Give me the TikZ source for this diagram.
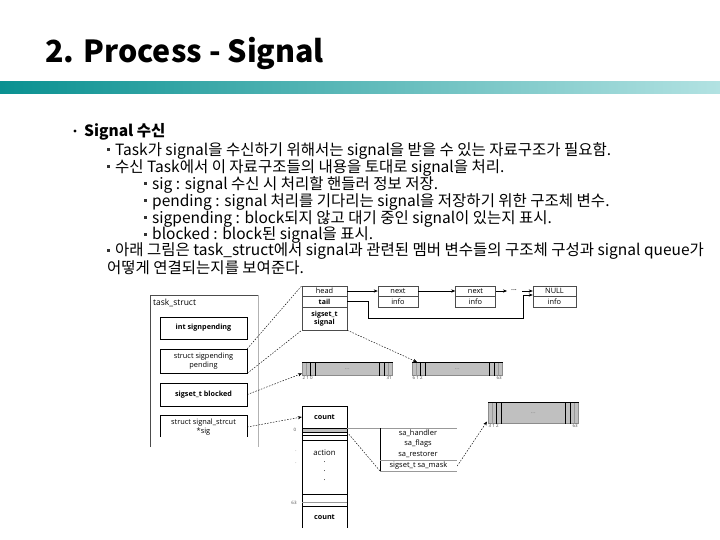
\documentclass[tikz,border=0pt]{standalone}
\usepackage{fontspec}
\setmainfont{Noto Sans CJK KR}
\newfontfamily\dfont{Open Sans}
\usetikzlibrary{arrows.meta}
\definecolor{tealA}{RGB}{10,145,145}
\definecolor{tealB}{RGB}{178,226,226}
\definecolor{bmgrey}{RGB}{192,192,192}
\newcommand{\bmlines}[1]{%
  \draw[black!40,line width=0.5pt] ([xshift=4.3pt]#1.north west) -- ([xshift=4.3pt]#1.south west);
  \draw[black,line width=0.6pt] ([xshift=8.7pt]#1.north west) -- ([xshift=8.7pt]#1.south west);
  \draw[black,line width=0.6pt] ([xshift=13pt]#1.north west) -- ([xshift=13pt]#1.south west);
  \draw[black,line width=0.6pt] ([xshift=-13pt]#1.north east) -- ([xshift=-13pt]#1.south east);
  \draw[black,line width=0.6pt] ([xshift=-8.7pt]#1.north east) -- ([xshift=-8.7pt]#1.south east);
  \draw[black!40,line width=0.5pt] ([xshift=-4.3pt]#1.north east) -- ([xshift=-4.3pt]#1.south east);
  \draw[black,line width=0.7pt] (#1.north west) -- (#1.north east);}
\begin{document}
\begin{tikzpicture}[x=1pt,y=-1pt,
  body/.style={anchor=base west, inner sep=0pt, font=\fontsize{15.5}{17}\selectfont},
  sq/.style={fill=black!80, minimum size=3pt, inner sep=0pt},
  dtxt/.style={font=\dfont\fontsize{7.4}{8.4}\selectfont, inner sep=0pt, align=center},
  tbox/.style={dtxt, draw, line width=0.6pt, minimum width=87pt},
  cell/.style={dtxt, draw=black!70, line width=0.5pt},
  bm/.style={draw=black!45, line width=0.5pt, fill=bmgrey, inner sep=0pt, anchor=north west,
     font=\dfont\fontsize{6}{6}\selectfont, text=black!50},
  lbl/.style={font=\dfont\fontsize{4.5}{5}\selectfont, inner sep=0pt, text=black!70},
  dl/.style={line width=0.45pt, dash pattern=on 1.5pt off 1.4pt},
  arr/.style={-{Stealth[length=4pt,width=3.2pt]}},
  sl/.style={line width=0.7pt}
]
\useasboundingbox (0,0) rectangle (720,540);
% title
\node[anchor=base west, inner sep=0pt, font=\bfseries\fontsize{30.4}{34}\selectfont] (title) at (45,63) {2. Process - Signal};
\shade[left color=tealA, right color=tealB] (0,82) rectangle (720,94);
% bullets
\fill (75,131) circle (1.6);
\node[anchor=base west, inner sep=0pt, font=\bfseries\fontsize{15.5}{18}\selectfont] (h1) at (84,137) {Signal 수신};
\node[sq] (b1) at (108,150) {};
\node[body] (t1) at (115,155.5) {Task가 signal을 수신하기 위해서는 signal을 받을 수 있는 자료구조가 필요함.};
\node[sq] (b2) at (108,167) {};
\node[body] (t2) at (115,172.5) {수신 Task에서 이 자료구조들의 내용을 토대로 signal을 처리.};
\node[sq] (b3) at (145,184) {};
\node[body] (t3) at (152,189.5) {sig : signal 수신 시 처리할 핸들러 정보 저장.};
\node[sq] (b4) at (145,201) {};
\node[body] (t4) at (152,206.5) {pending : signal 처리를 기다리는 signal을 저장하기 위한 구조체 변수.};
\node[sq] (b5) at (145,218) {};
\node[body] (t5) at (152,223.5) {sigpending : block되지 않고 대기 중인 signal이 있는지 표시.};
\node[sq] (b6) at (145,234) {};
\node[body] (t6) at (152,239.5) {blocked : block된 signal을 표시.};
\node[sq] (b7) at (108,250) {};
\node[body] (t7) at (115,255.5) {아래 그림은 task\_struct에서 signal과 관련된 멤버 변수들의 구조체 구성과 signal queue가};
\node[body] (t8) at (107,273) {어떻게 연결되는지를 보여준다.};
% task_struct
\draw[black!70,line width=0.6pt] (150,447) -- (150,295) -- (258,295);
\draw[black!30,line width=0.6pt] (258,295) -- (258,447);
\node[dtxt, anchor=west, font=\dfont\fontsize{8.5}{9}\selectfont] (tsl) at (153,303) {task\_struct};
\node[tbox, minimum height=22pt, font=\dfont\bfseries\fontsize{7.2}{8.4}\selectfont] (isp) at (203.5,328) {int signpending};
\node[tbox, minimum height=24pt] (pend) at (203.5,361) {struct sigpending\\pending};
\node[tbox, minimum height=23pt, font=\dfont\bfseries\fontsize{7.2}{8.4}\selectfont] (blk) at (203.5,394.5) {sigset\_t blocked};
\draw[line width=0.6pt] (160,437) -- (160,415) -- (247,415) -- (247,437);
\node[dtxt, minimum width=87pt] (sigb) at (203.5,427) {struct signal\_strcut\\*sig};
% sigpending struct
\node[cell, minimum width=45pt, minimum height=10pt] (head) at (324.5,291) {head};
\node[cell, minimum width=45pt, minimum height=11pt, font=\dfont\bfseries\fontsize{7}{8}\selectfont] (tail) at (324.5,301.5) {tail};
\node[cell, minimum width=45pt, minimum height=23pt, font=\dfont\bfseries\fontsize{7}{8.4}\selectfont] (sset) at (324.5,318.5) {sigset\_t\\signal};
\node[cell, minimum width=40pt, minimum height=10pt] (n1a) at (398,291) {next};
\node[cell, minimum width=40pt, minimum height=11pt] (n1b) at (398,301.5) {info};
\node[cell, minimum width=40pt, minimum height=10pt] (n2a) at (475.5,291) {next};
\node[cell, minimum width=40pt, minimum height=11pt] (n2b) at (475.5,301.5) {info};
\node[cell, minimum width=43pt, minimum height=10pt] (nla) at (554.5,291) {NULL};
\node[cell, minimum width=43pt, minimum height=11pt] (nlb) at (554.5,301.5) {info};
\node[dtxt] (dots) at (514,290) {...};
\coordinate (d1) at (507,291);
\coordinate (d2) at (522,291);
\draw[arr, line width=0.5pt] (head.east) -- (n1a.west);
\draw[arr, line width=0.5pt] (n1a.east) -- (n2a.west);
\draw[arr, line width=0.5pt] (n2a.east) -- (d1);
\draw[arr, line width=0.5pt] (d2) -- (nla.west);
\draw[arr, line width=0.5pt] (tail.east) -- (368,301.5) -- (368,318) -- (523,318) -- (523,295) -- ([yshift=-4pt]nla.west);
% bitmaps
\node[bm, minimum width=90pt, minimum height=13pt] (bm1) at (302,362) {...};
\bmlines{bm1}
\node[bm, minimum width=90pt, minimum height=13pt] (bm2) at (412,362) {...};
\bmlines{bm2}
\node[bm, minimum width=90pt, minimum height=21pt] (bm3) at (488,402) {...};
\bmlines{bm3}
\node[lbl, anchor=north west] at (302.5,376.5) {2 1 0};
\node[lbl, anchor=north east] at (392,376.5) {31};
\node[lbl, anchor=north west] at (412.5,376.5) {6 1 2};
\node[lbl, anchor=north east] at (502,376.5) {63};
\node[lbl, anchor=north west] at (488.5,424.5) {3 1 2};
\node[lbl, anchor=north east] at (578,424.5) {63};
% dotted projections
\draw[dl] (pend.north east) -- (head.north west);
\draw[dl] (pend.south east) -- (sset.south west);
\draw[dl, arr] (sset.south east) -- ([xshift=5pt]bm2.north west);
\draw[dl, arr] (blk.east) -- ([yshift=2pt]bm1.south west);
% signal_struct array
\node[dtxt, minimum width=45pt, minimum height=22pt, font=\dfont\bfseries\fontsize{7.2}{8}\selectfont] (cnt) at (324.5,417) {count};
\draw[dl, arr] (sigb.east) -- (cnt.west);
\fill[bmgrey] (302,428) rectangle (347,432);
\draw[sl] (302,528) -- (302,406) -- (347,406) -- (347,528);
\draw[sl] (302,428) -- (347,428);
\draw[sl] (302,432) -- (347,432);
\draw[line width=0.5pt] (302,435) -- (347,435);
\draw[sl] (302,440) -- (347,440);
\node[dtxt, font=\dfont\fontsize{7.8}{8}\selectfont] (act) at (324.5,453) {action};
\node[dtxt] (p1) at (324.5,462) {.};
\node[dtxt] (p2) at (324.5,471) {.};
\node[dtxt] (p3) at (324.5,480) {.};
\draw[sl] (302,494) -- (347,494);
\draw[black!40, line width=0.5pt] (302,502) -- (347,502);
\draw[sl] (302,506) -- (347,506);
\node[dtxt, font=\dfont\bfseries\fontsize{7.2}{8}\selectfont] (cnt2) at (324.5,517) {count};
\node[lbl] at (295,430) {0};
\node[lbl] at (296,451) {.};
\node[lbl] at (296,463) {.};
\node[lbl] at (294,503) {63};
% sigaction table
\draw[black!40, line width=0.5pt] (347,428) -- (457,428);
\draw[line width=0.6pt] (380,428) -- (380,471);
\draw[black!40, line width=0.5pt] (380,460) -- (457,460);
\draw[black!40, line width=0.5pt] (380,471) -- (457,471);
\node[dtxt, font=\dfont\fontsize{7.5}{8}\selectfont] (sah) at (418,433) {sa\_handler};
\node[dtxt, font=\dfont\fontsize{7.5}{8}\selectfont] (saf) at (418,444) {sa\_flags};
\node[dtxt, font=\dfont\fontsize{7.5}{8}\selectfont] (sar) at (418,455) {sa\_restorer};
\node[dtxt, font=\dfont\fontsize{7.5}{8}\selectfont, minimum width=77pt] (sam) at (418.5,466) {sigset\_t sa\_mask};
\draw[dl] (347,432) -- (380,471);
\draw[dl, arr] (sam.east) -- ([xshift=-1pt,yshift=2pt]bm3.south west);
\end{tikzpicture}
\end{document}
